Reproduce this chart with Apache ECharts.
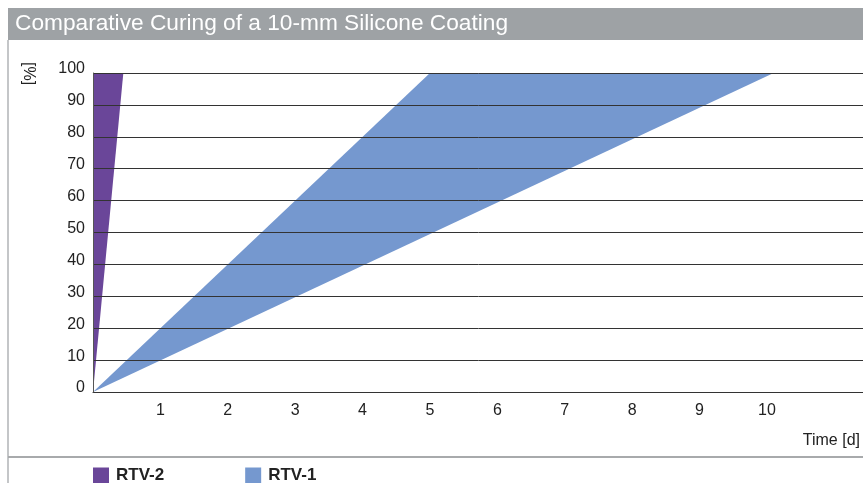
<!DOCTYPE html>
<html><head><meta charset="utf-8">
<script src="https://cdn.jsdelivr.net/npm/echarts@6/dist/echarts.min.js"></script>
<style>html,body{margin:0;padding:0;background:#fff;overflow:hidden}#c{width:863px;height:483px}</style>
</head><body><div id="c"></div>
<script>
const titleText = 'Comparative Curing of a 10-mm Silicone Coating';
const seriesNames = ['RTV-2', 'RTV-1'];
// polygon vertices [time in days, cure %]
const rtv2Area = [[0, 0], [0.45, 100], [0, 100]];
const rtv1Area = [[0, 0], [5, 100], [10.1, 100]];
const xTickLabels = [1, 2, 3, 4, 5, 6, 7, 8, 9, 10];
const yTicks = [0, 10, 20, 30, 40, 50, 60, 70, 80, 90, 100];
const colors = ['#6a4699', '#7598cf'];

const font = 'Liberation Sans, Arial, Helvetica, sans-serif';
const chart = echarts.init(document.getElementById('c'));

function polySeries(name, data, color) {
  return {
    type: 'custom', name: name, data: data, z: 2,
    encode: {x: 0, y: 1},
    itemStyle: {color: color},
    clip: true,
    renderItem: function (params, api) {
      if (params.dataIndex !== 0) return;
      const pts = data.map(p => api.coord(p));
      return {type: 'polygon', shape: {points: pts}, style: {fill: color}};
    }
  };
}

chart.setOption({
  animation: false,
  grid: {left: 93, top: 73, width: 775, bottom: 91, containLabel: false, outerBoundsMode: 'none'},
  xAxis: {
    type: 'value', min: 0, max: 11.5, interval: 1,
    axisLine: {show: true, lineStyle: {color: '#333', width: 1}},
    axisTick: {show: false},
    splitLine: {show: false},
    axisLabel: {
      margin: 11, fontSize: 16, color: '#222', fontFamily: font,
      formatter: v => xTickLabels.indexOf(v) >= 0 ? String(v) : ''
    }
  },
  yAxis: {
    type: 'value', min: 0, max: 100, interval: 10, z: 5,
    axisLine: {show: true, lineStyle: {color: '#555', width: 1}},
    axisTick: {show: false},
    splitLine: {show: true, lineStyle: {color: '#333', width: 1}},
    axisLabel: {
      margin: 8, fontSize: 16, color: '#222', fontFamily: font,
      verticalAlign: 'bottom', lineHeight: 8,
      formatter: v => yTicks.indexOf(v) >= 0 ? String(v) : ''
    }
  },
  legend: {
    left: 93, top: 467, padding: 0, itemWidth: 16, itemHeight: 16, itemGap: 81,
    icon: 'rect',
    data: seriesNames,
    textStyle: {fontSize: 17, fontWeight: 'bold', color: '#222', fontFamily: font, padding: [0, 0, 0, 2]}
  },
  graphic: [
    {type: 'rect', left: 8, top: 8, shape: {width: 855, height: 32}, style: {fill: '#9ea2a5'}, z: 0},
    {type: 'text', left: 15, top: 12, style: {text: titleText, fill: '#fff', font: '22.7px ' + font}, z: 1},
    {type: 'rect', left: 7, top: 40, shape: {width: 2, height: 443}, style: {fill: '#c4c6c8'}, z: 0},
    {type: 'rect', left: 8, top: 456, shape: {width: 855, height: 2}, style: {fill: '#a8aaac'}, z: 0},
    {type: 'text', right: 3, top: 433, style: {text: 'Time [d]', fill: '#222', font: '16px ' + font}, z: 1},
    {type: 'text', left: 20, top: 62, rotation: -Math.PI / 2, style: {text: '[%]', fill: '#222', font: '16px ' + font}, z: 1}
  ],
  series: [
    polySeries(seriesNames[0], rtv2Area, colors[0]),
    polySeries(seriesNames[1], rtv1Area, colors[1])
  ]
});
</script></body></html>
